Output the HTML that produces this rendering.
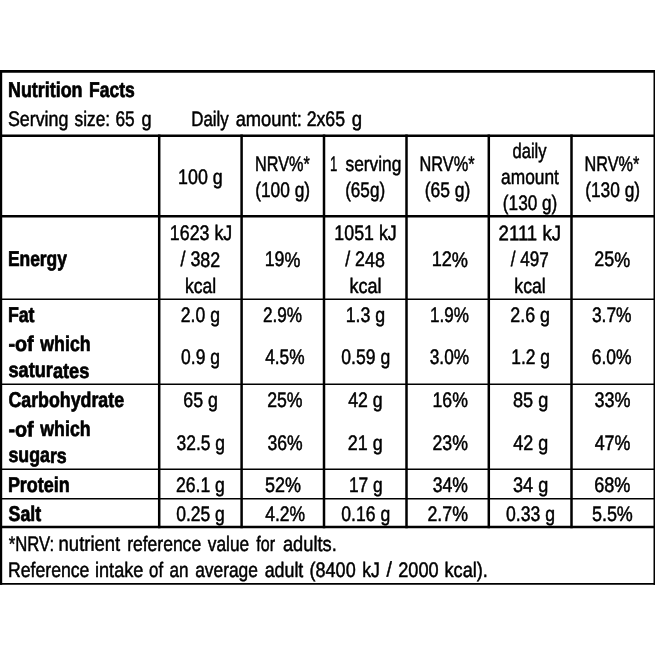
<!DOCTYPE html>
<html><head><meta charset="utf-8"><title>Nutrition Facts</title>
<style>
html,body{margin:0;padding:0;background:#fff;}
body{width:655px;height:655px;overflow:hidden;}
svg{display:block;will-change:transform;}
text{font-family:"Liberation Sans",sans-serif;font-size:21px;fill:#000;stroke:#000;stroke-width:0.5;stroke-linejoin:round;}
.b{font-weight:bold;font-size:21.4px;stroke-width:0.7;}
</style></head>
<body>
<svg width="655" height="655" viewBox="0 0 655 655">
<rect width="655" height="655" fill="#fff"/>
<g>
<g stroke="#000" fill="none">
<line x1="-6" y1="71.425" x2="661" y2="71.425" stroke-width="2.85"/>
<line x1="-6" y1="583.8" x2="661" y2="583.8" stroke-width="1.8"/>
<line x1="-1.9" y1="70" x2="-1.9" y2="584.7" stroke-width="8.2"/>
<line x1="657.25" y1="70" x2="657.25" y2="584.7" stroke-width="7.5"/>
<line x1="-6" y1="135.8" x2="661" y2="135.8" stroke-width="2.55"/>
<line x1="-6" y1="216.35" x2="661" y2="216.35" stroke-width="2.5"/>
<line x1="-6" y1="299.25" x2="661" y2="299.25" stroke-width="1.5"/>
<line x1="-6" y1="384.2" x2="661" y2="384.2" stroke-width="1.5"/>
<line x1="-6" y1="469.35" x2="661" y2="469.35" stroke-width="1.5"/>
<line x1="-6" y1="498.8" x2="661" y2="498.8" stroke-width="1.6"/>
<line x1="-6" y1="527" x2="661" y2="527" stroke-width="2.5"/>
<line x1="159.2" y1="134.6" x2="159.2" y2="528.2" stroke-width="2.5"/>
<line x1="241.6" y1="134.6" x2="241.6" y2="528.2" stroke-width="2.5"/>
<line x1="324" y1="134.6" x2="324" y2="528.2" stroke-width="2.5"/>
<line x1="406.5" y1="134.6" x2="406.5" y2="528.2" stroke-width="2.5"/>
<line x1="488.8" y1="134.6" x2="488.8" y2="528.2" stroke-width="2.5"/>
<line x1="571.5" y1="134.6" x2="571.5" y2="528.2" stroke-width="2.5"/>
</g>
<text class="b" transform="translate(7.98 97.18) rotate(0.03) scale(0.8363 1)">Nutrition</text>
<text class="b" transform="translate(89.00 97.19) rotate(0.03) scale(0.8195 1)">Facts</text>
<text transform="translate(7.91 126.03) rotate(0.03) scale(0.8487 1)">Serving</text>
<text transform="translate(74.51 126.04) rotate(0.03) scale(0.8238 1)">size:</text>
<text transform="translate(115.44 126.05) rotate(0.03) scale(0.8246 1)">65</text>
<text transform="translate(141.44 126.05) rotate(0.03) scale(0.8643 1)">g</text>
<text transform="translate(191.23 126.04) rotate(0.03) scale(0.8053 1)">Daily</text>
<text transform="translate(235.63 126.03) rotate(0.03) scale(0.8729 1)">amount:</text>
<text transform="translate(306.63 126.04) rotate(0.03) scale(0.8435 1)">2x65</text>
<text transform="translate(351.73 126.05) rotate(0.03) scale(0.8844 1)">g</text>
<text transform="translate(178.05 184.14) rotate(0.03) scale(0.8503 1)">100 g</text>
<text transform="translate(254.98 170.99) rotate(0.03) scale(0.7734 1)">NRV%*</text>
<text transform="translate(255.23 197.14) rotate(0.03) scale(0.8239 1)">(100 g)</text>
<text transform="translate(330.05 171.00) rotate(0.03) scale(0.6283 1)">1</text>
<text transform="translate(345.51 170.99) rotate(0.03) scale(0.8257 1)">serving</text>
<text transform="translate(345.14 197.14) rotate(0.03) scale(0.8158 1)">(65g)</text>
<text transform="translate(419.47 170.99) rotate(0.03) scale(0.7778 1)">NRV%*</text>
<text transform="translate(424.73 197.14) rotate(0.03) scale(0.8322 1)">(65 g)</text>
<text transform="translate(512.49 158.04) rotate(0.03) scale(0.7906 1)">daily</text>
<text transform="translate(501.06 184.13) rotate(0.03) scale(0.8259 1)">amount</text>
<text transform="translate(502.84 210.04) rotate(0.03) scale(0.8192 1)">(130 g)</text>
<text transform="translate(584.48 170.99) rotate(0.03) scale(0.7734 1)">NRV%*</text>
<text transform="translate(585.23 197.14) rotate(0.03) scale(0.8239 1)">(130 g)</text>
<text class="b" transform="translate(7.90 265.98) rotate(0.03) scale(0.8145 1)">Energy</text>
<text transform="translate(169.86 240.23) rotate(0.03) scale(0.8477 1)">1623 kJ</text>
<text transform="translate(180.51 266.49) rotate(0.03) scale(0.8506 1)">/ 382</text>
<text transform="translate(185.04 292.74) rotate(0.03) scale(0.8359 1)">kcal</text>
<text transform="translate(264.65 266.49) rotate(0.03) scale(0.8507 1)">19%</text>
<text transform="translate(334.36 240.23) rotate(0.03) scale(0.8477 1)">1051 kJ</text>
<text transform="translate(345.21 266.49) rotate(0.03) scale(0.8488 1)">/ 248</text>
<text transform="translate(349.51 292.74) rotate(0.03) scale(0.8588 1)">kcal</text>
<text transform="translate(431.63 266.49) rotate(0.03) scale(0.8657 1)">12%</text>
<text transform="translate(498.59 240.23) rotate(0.03) scale(0.8866 1)">2111 kJ</text>
<text transform="translate(510.70 266.49) rotate(0.03) scale(0.8139 1)">/ 497</text>
<text transform="translate(514.33 292.74) rotate(0.03) scale(0.8417 1)">kcal</text>
<text transform="translate(594.32 266.49) rotate(0.03) scale(0.8540 1)">25%</text>
<text class="b" transform="translate(7.89 321.79) rotate(0.03) scale(0.8309 1)">Fat</text>
<text class="b" transform="translate(8.39 351.09) rotate(0.03) scale(0.9210 1)">-of</text>
<text class="b" transform="translate(40.33 351.09) rotate(0.03) scale(0.8293 1)">which</text>
<text class="b" transform="translate(8.46 377.48) rotate(0.03) scale(0.8499 1)">saturates</text>
<text transform="translate(180.83 321.64) rotate(0.03) scale(0.8384 1)">2.0 g</text>
<text transform="translate(262.95 321.64) rotate(0.03) scale(0.8176 1)">2.9%</text>
<text transform="translate(345.66 321.64) rotate(0.03) scale(0.8465 1)">1.3 g</text>
<text transform="translate(430.10 321.64) rotate(0.03) scale(0.8143 1)">1.9%</text>
<text transform="translate(510.32 321.64) rotate(0.03) scale(0.8495 1)">2.6 g</text>
<text transform="translate(591.94 321.64) rotate(0.03) scale(0.8282 1)">3.7%</text>
<text transform="translate(181.04 364.44) rotate(0.03) scale(0.8337 1)">0.9 g</text>
<text transform="translate(265.19 364.44) rotate(0.03) scale(0.8229 1)">4.5%</text>
<text transform="translate(341.34 364.44) rotate(0.03) scale(0.8370 1)">0.59 g</text>
<text transform="translate(429.75 364.44) rotate(0.03) scale(0.8218 1)">3.0%</text>
<text transform="translate(511.18 364.44) rotate(0.03) scale(0.8307 1)">1.2 g</text>
<text transform="translate(591.73 364.44) rotate(0.03) scale(0.8326 1)">6.0%</text>
<text class="b" transform="translate(8.38 406.87) rotate(0.03) scale(0.8322 1)">Carbohydrate</text>
<text class="b" transform="translate(8.39 436.39) rotate(0.03) scale(0.9210 1)">-of</text>
<text class="b" transform="translate(40.33 436.39) rotate(0.03) scale(0.8293 1)">which</text>
<text class="b" transform="translate(8.47 462.48) rotate(0.03) scale(0.8297 1)">sugars</text>
<text transform="translate(183.32 406.64) rotate(0.03) scale(0.8487 1)">65 g</text>
<text transform="translate(267.23 406.64) rotate(0.03) scale(0.8417 1)">25%</text>
<text transform="translate(348.29 406.64) rotate(0.03) scale(0.8420 1)">42 g</text>
<text transform="translate(432.56 406.64) rotate(0.03) scale(0.8408 1)">16%</text>
<text transform="translate(512.94 406.64) rotate(0.03) scale(0.8633 1)">85 g</text>
<text transform="translate(594.43 406.64) rotate(0.03) scale(0.8561 1)">33%</text>
<text transform="translate(176.54 449.64) rotate(0.03) scale(0.8300 1)">32.5 g</text>
<text transform="translate(267.44 449.64) rotate(0.03) scale(0.8366 1)">36%</text>
<text transform="translate(347.82 449.64) rotate(0.03) scale(0.8538 1)">21 g</text>
<text transform="translate(432.53 449.64) rotate(0.03) scale(0.8417 1)">23%</text>
<text transform="translate(513.29 449.64) rotate(0.03) scale(0.8546 1)">42 g</text>
<text transform="translate(594.69 449.64) rotate(0.03) scale(0.8499 1)">47%</text>
<text class="b" transform="translate(7.88 491.88) rotate(0.03) scale(0.8388 1)">Protein</text>
<text transform="translate(175.93 491.74) rotate(0.03) scale(0.8389 1)">26.1 g</text>
<text transform="translate(264.89 491.74) rotate(0.03) scale(0.8571 1)">52%</text>
<text transform="translate(348.88 491.74) rotate(0.03) scale(0.8270 1)">17 g</text>
<text transform="translate(432.74 491.74) rotate(0.03) scale(0.8366 1)">34%</text>
<text transform="translate(513.03 491.74) rotate(0.03) scale(0.8611 1)">34 g</text>
<text transform="translate(594.21 491.74) rotate(0.03) scale(0.8613 1)">68%</text>
<text class="b" transform="translate(8.59 520.79) rotate(0.03) scale(0.8323 1)">Salt</text>
<text transform="translate(176.14 521.14) rotate(0.03) scale(0.8352 1)">0.25 g</text>
<text transform="translate(265.19 521.14) rotate(0.03) scale(0.8335 1)">4.2%</text>
<text transform="translate(341.34 521.14) rotate(0.03) scale(0.8370 1)">0.16 g</text>
<text transform="translate(427.53 521.14) rotate(0.03) scale(0.8433 1)">2.7%</text>
<text transform="translate(506.04 521.14) rotate(0.03) scale(0.8388 1)">0.33 g</text>
<text transform="translate(591.89 521.14) rotate(0.03) scale(0.8568 1)">5.5%</text>
<text transform="translate(8.72 550.84) rotate(0.03) scale(0.7942 1)">*NRV:</text>
<text transform="translate(58.59 550.83) rotate(0.03) scale(0.8797 1)">nutrient</text>
<text transform="translate(127.14 550.83) rotate(0.03) scale(0.8343 1)">reference</text>
<text transform="translate(207.82 550.84) rotate(0.03) scale(0.8238 1)">value</text>
<text transform="translate(256.36 550.85) rotate(0.03) scale(0.7639 1)">for</text>
<text transform="translate(282.93 550.84) rotate(0.03) scale(0.8699 1)">adults.</text>
<text transform="translate(7.98 576.58) rotate(0.03) scale(0.8412 1)">Reference</text>
<text transform="translate(95.01 576.59) rotate(0.03) scale(0.8635 1)">intake</text>
<text transform="translate(149.08 576.60) rotate(0.03) scale(0.7988 1)">of</text>
<text transform="translate(169.57 576.60) rotate(0.03) scale(0.8148 1)">an</text>
<text transform="translate(195.16 576.58) rotate(0.03) scale(0.8276 1)">average</text>
<text transform="translate(264.65 576.59) rotate(0.03) scale(0.8489 1)">adult</text>
<text transform="translate(309.60 576.59) rotate(0.03) scale(0.8580 1)">(8400</text>
<text transform="translate(362.13 576.60) rotate(0.03) scale(0.8410 1)">kJ</text>
<text transform="translate(386.56 576.60) rotate(0.03) scale(0.9200 1)">/</text>
<text transform="translate(398.21 576.59) rotate(0.03) scale(0.8666 1)">2000</text>
<text transform="translate(444.50 576.59) rotate(0.03) scale(0.8659 1)">kcal).</text>
</g>
</svg>
</body></html>
